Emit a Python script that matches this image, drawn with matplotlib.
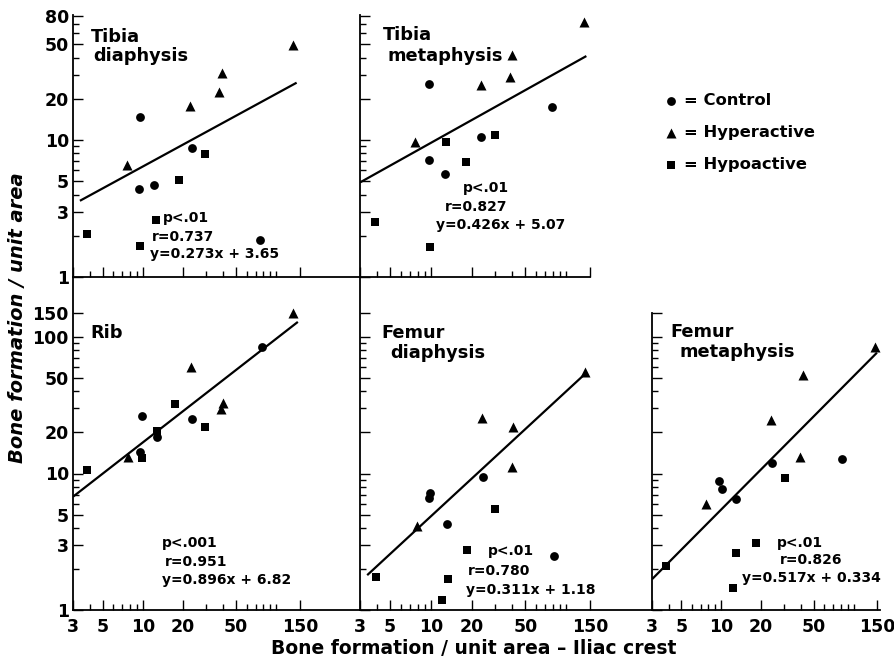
import matplotlib
matplotlib.use("Agg")
import matplotlib.pyplot as plt
from matplotlib.ticker import FixedLocator, NullFormatter, FixedFormatter

# ---------------- data ----------------
# Tibia diaphysis
TD_CTRL_X = [9.6, 9.4, 12.2, 23.2, 76]
TD_CTRL_Y = [14.8, 4.4, 4.7, 8.8, 1.86]
TD_HYPER_X = [7.6, 22.5, 37.4, 39, 134]
TD_HYPER_Y = [6.6, 17.7, 22.5, 31, 49]
TD_HYPO_X = [3.8, 9.6, 12.5, 18.6, 29]
TD_HYPO_Y = [2.05, 1.68, 2.6, 5.1, 7.9]
TD_LINE_X = [3.38, 142]
TD_LINE_Y = [3.6, 26.2]

# Tibia metaphysis
TM_CTRL_X = [9.7, 9.7, 12.7, 23.3, 78]
TM_CTRL_Y = [25.6, 7.1, 5.6, 10.6, 17.3]
TM_HYPER_X = [7.7, 23.3, 38.4, 40, 135]
TM_HYPER_Y = [9.6, 25.2, 28.7, 41.7, 73]
TM_HYPO_X = [3.9, 9.8, 12.9, 18.2, 29.8]
TM_HYPO_Y = [2.5, 1.65, 9.6, 6.95, 10.9]
TM_LINE_X = [3.0, 141]
TM_LINE_Y = [4.9, 41]

# Rib
RB_CTRL_X = [9.9, 9.5, 12.7, 23.4, 77.5]
RB_CTRL_Y = [26.4, 14.4, 18.6, 25.1, 85]
RB_HYPER_X = [7.7, 23, 38.5, 40, 134]
RB_HYPER_Y = [13.1, 60.6, 29.7, 33, 150]
RB_HYPO_X = [3.8, 9.9, 12.7, 17.4, 29.2]
RB_HYPO_Y = [10.6, 12.9, 20.6, 32.3, 22]
RB_LINE_X = [3.0, 145]
RB_LINE_Y = [6.76, 129]

# Femur diaphysis
FD_CTRL_X = [9.8, 9.7, 13.1, 24.4, 81]
FD_CTRL_Y = [7.2, 6.6, 4.27, 9.5, 2.5]
FD_HYPER_X = [7.9, 24, 40.6, 39.5, 137]
FD_HYPER_Y = [4.1, 25.4, 22, 11.2, 55.7]
FD_HYPO_X = [3.94, 12.2, 13.3, 18.6, 29.8]
FD_HYPO_Y = [1.75, 1.18, 1.7, 2.75, 5.5]
FD_LINE_X = [3.39, 141]
FD_LINE_Y = [1.8, 54.8]

# Femur metaphysis
FM_CTRL_X = [9.6, 10.2, 12.9, 24, 82]
FM_CTRL_Y = [8.8, 7.7, 6.5, 12, 12.8]
FM_HYPER_X = [7.7, 23.7, 39.3, 41.6, 146]
FM_HYPER_Y = [6.0, 24.7, 13.3, 52.7, 85]
FM_HYPO_X = [3.8, 12.2, 12.9, 18.2, 30.3]
FM_HYPO_Y = [2.1, 1.44, 2.6, 3.08, 9.3]
FM_LINE_X = [3.0, 150]
FM_LINE_Y = [1.68, 76.8]

X_MAJOR = [3, 5, 10, 20, 50, 150]
X_MINOR = [4, 6, 7, 8, 9, 30, 40, 60, 70, 80, 90, 100]
X_LABELS = ["3", "5", "10", "20", "50", "150"]
YT_MAJOR = [1, 3, 5, 10, 20, 50, 80]
YT_MINOR = [2, 4, 6, 7, 8, 9, 30, 40, 60, 70]
YT_LABELS = ["1", "3", "5", "10", "20", "50", "80"]
YB_MAJOR = [1, 3, 5, 10, 20, 50, 100, 150]
YB_MINOR = [2, 4, 6, 7, 8, 9, 30, 40, 60, 70, 80, 90]
YB_LABELS = ["1", "3", "5", "10", "20", "50", "100", "150"]

LEGEND_LABELS = ["= Control", "= Hyperactive", "= Hypoactive"]

# ---------------- figure ----------------
plt.rcParams["font.family"] = ["DejaVu Sans"]
plt.rcParams["font.weight"] = "bold"

W, H = 895, 663
fig = plt.figure(figsize=(W / 100, H / 100), dpi=100)


def fx(px):
    return px / W


def fy(py):
    return 1 - py / H


def add_ax(x0, y0, x1, y1):
    ax = fig.add_axes([fx(x0), fy(y1), (x1 - x0) / W, (y1 - y0) / H])
    ax.patch.set_alpha(0)
    return ax


def style(ax, xlim, ylim, ymaj, ymin, ylabels, xlabels):
    ax.set_xscale("log")
    ax.set_yscale("log")
    ax.set_xlim(xlim)
    ax.set_ylim(ylim)
    for s in ("top", "right"):
        ax.spines[s].set_visible(False)
    for s in ("left", "bottom"):
        ax.spines[s].set_linewidth(1.3)
    ax.xaxis.set_major_locator(FixedLocator(X_MAJOR))
    ax.xaxis.set_minor_locator(FixedLocator(X_MINOR))
    ax.xaxis.set_minor_formatter(NullFormatter())
    ax.yaxis.set_major_locator(FixedLocator(ymaj))
    ax.yaxis.set_minor_locator(FixedLocator(ymin))
    ax.yaxis.set_minor_formatter(NullFormatter())
    if xlabels:
        ax.xaxis.set_major_formatter(FixedFormatter(X_LABELS))
    else:
        ax.xaxis.set_major_formatter(NullFormatter())
    if ylabels is not None:
        ax.yaxis.set_major_formatter(FixedFormatter(ylabels))
    else:
        ax.yaxis.set_major_formatter(NullFormatter())
    ax.tick_params(which="both", direction="in", width=1.0, labelsize=12.5)
    ax.tick_params(which="major", length=7)
    ax.tick_params(which="minor", length=4)
    ax.tick_params(axis="y", pad=3)
    ax.tick_params(axis="x", pad=6)


def draw(ax, cx, cy, hx, hy, sx, sy, lx, ly):
    a = ax.scatter(cx, cy, marker="o", s=40, c="k", linewidths=0, zorder=3, clip_on=False)
    b = ax.scatter(hx, hy, marker="^", s=52, c="k", linewidths=0, zorder=3, clip_on=False)
    c = ax.scatter(sx, sy, marker="s", s=26, c="k", linewidths=0, zorder=3, clip_on=False)
    ax.plot(lx, ly, color="k", lw=1.6, zorder=2, solid_capstyle="butt")
    return a, b, c


def txt(x, y, s, size=10.0, **kw):
    fig.text(fx(x), fy(y), s, ha="left", va="baseline", fontsize=size, **kw)


# Tibia diaphysis
axA = add_ax(73, 15, 360, 277)
style(axA, (3, 3 * 10 ** (287 / 133.5)), (1, 10 ** (262 / 137)), YT_MAJOR, YT_MINOR, YT_LABELS, False)
hA = draw(axA, TD_CTRL_X, TD_CTRL_Y, TD_HYPER_X, TD_HYPER_Y, TD_HYPO_X, TD_HYPO_Y, TD_LINE_X, TD_LINE_Y)

# Tibia metaphysis
axB = add_ax(360, 15, 590, 277)
style(axB, (3, 150), (1, 10 ** (262 / 137)), YT_MAJOR, YT_MINOR, None, False)
draw(axB, TM_CTRL_X, TM_CTRL_Y, TM_HYPER_X, TM_HYPER_Y, TM_HYPO_X, TM_HYPO_Y, TM_LINE_X, TM_LINE_Y)

# Rib
axC = add_ax(73, 277, 360, 610)
style(axC, (3, 3 * 10 ** (287 / 133.5)), (1, 10 ** (333 / 136.5)), YB_MAJOR, YB_MINOR, YB_LABELS, True)
draw(axC, RB_CTRL_X, RB_CTRL_Y, RB_HYPER_X, RB_HYPER_Y, RB_HYPO_X, RB_HYPO_Y, RB_LINE_X, RB_LINE_Y)

# Femur diaphysis
axD = add_ax(360, 277, 652, 610)
style(axD, (3, 3 * 10 ** (292 / 135.4)), (1, 10 ** (333 / 136.5)), YB_MAJOR, YB_MINOR, None, True)
draw(axD, FD_CTRL_X, FD_CTRL_Y, FD_HYPER_X, FD_HYPER_Y, FD_HYPO_X, FD_HYPO_Y, FD_LINE_X, FD_LINE_Y)

# Femur metaphysis
axE = add_ax(652, 313, 880, 610)
style(axE, (3, 3 * 10 ** (228 / 132.4)), (1, 150), YB_MAJOR, YB_MINOR, None, True)
draw(axE, FM_CTRL_X, FM_CTRL_Y, FM_HYPER_X, FM_HYPER_Y, FM_HYPO_X, FM_HYPO_Y, FM_LINE_X, FM_LINE_Y)

# panel titles
TS = 12.8
txt(91, 42, "Tibia", TS)
txt(93, 61, "diaphysis", TS)
txt(383, 40, "Tibia", TS)
txt(388, 61, "metaphysis", TS)
txt(90, 338, "Rib", TS)
txt(381, 338, "Femur", TS)
txt(390, 358, "diaphysis", TS)
txt(670, 337, "Femur", TS)
txt(680, 357, "metaphysis", TS)

# statistics
txt(163, 222, "p<.01")
txt(152, 241, "r=0.737")
txt(150, 258, "y=0.273x + 3.65")
txt(463, 192, "p<.01")
txt(445, 211, "r=0.827")
txt(436, 229, "y=0.426x + 5.07")
txt(162, 547, "p<.001")
txt(165, 566, "r=0.951")
txt(162, 584, "y=0.896x + 6.82")
txt(488, 555, "p<.01")
txt(468, 575, "r=0.780")
txt(466, 594, "y=0.311x + 1.18")
txt(777, 547, "p<.01")
txt(780, 564, "r=0.826")
txt(742, 582, "y=0.517x + 0.334")

# legend
fig.legend(hA, LEGEND_LABELS, loc="upper left", bbox_to_anchor=(fx(664), fy(93)),
           frameon=False, fontsize=11.8, handlelength=0.85, handletextpad=0.35,
           labelspacing=1.05, borderaxespad=0, borderpad=0, scatterpoints=1)

# axis labels
fig.text(fx(18), fy(318), "Bone formation / unit area", rotation=90, ha="center",
         va="center", fontsize=14, style="italic")
fig.text(fx(474), fy(649), "Bone formation / unit area \u2013 Iliac crest", ha="center",
         va="center", fontsize=13.5)

fig.savefig("out.png", dpi=100)
